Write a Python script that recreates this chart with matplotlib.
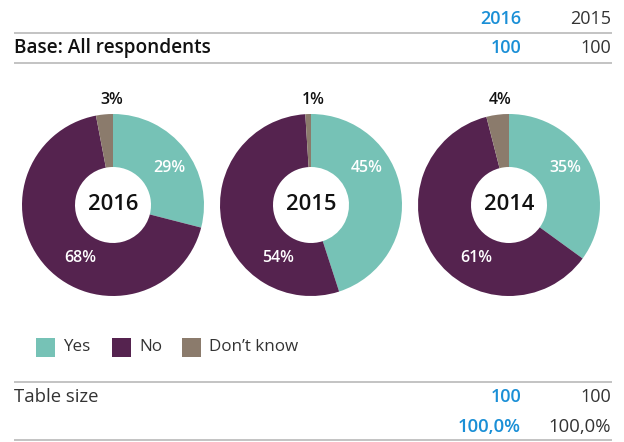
import matplotlib.pyplot as plt
from matplotlib.patches import Rectangle

# survey answers per year, in percent
years = ["2016", "2015", "2014"]
answers = ["Yes", "No", "Don\u2019t know"]
yes_pct = [29, 45, 35]
no_pct = [68, 54, 61]
dk_pct = [3, 1, 4]

# table columns
table_years = ["2016", "2015"]
base_counts = [100, 100]
table_sizes = [100, 100]
table_shares = ["100,0%", "100,0%"]

COLORS = ["#76c2b6", "#55234f", "#8b7b6c"]
BLUE = "#1a8fd6"
GREY_TEXT = "#333333"
RULE = "#b9b9b9"

W, H = 624, 442
plt.rcParams["font.family"] = ["Open Sans", "DejaVu Sans"]


def Y(py):
    # pixel rows count from the top, data y from the bottom
    return H - py


def pt(px):
    return px * 0.72


fig = plt.figure(figsize=(W / 100, H / 100), dpi=100)
ax = fig.add_axes([0, 0, 1, 1])

# donuts
centers_x = [113, 311, 509]
cy = 205
radius, hole = 91, 38
dk_dx = [-1, 2, -9]
for i, cx in enumerate(centers_x):
    vals = [yes_pct[i], no_pct[i], dk_pct[i]]
    ax.pie(vals, colors=COLORS, startangle=90, counterclock=False,
           center=(cx, Y(cy)), radius=radius,
           wedgeprops=dict(width=radius - hole, linewidth=0))
    ax.text(cx, Y(cy), years[i], ha="center", va="center",
            fontsize=pt(22), fontweight="semibold", color="#111111")
    ax.text(cx + 56, Y(168), f"{yes_pct[i]}%", ha="center", va="center",
            fontsize=pt(16), color="white", fontweight="semibold")
    ax.text(cx - 33, Y(258), f"{no_pct[i]}%", ha="center", va="center",
            fontsize=pt(16), color="white", fontweight="semibold")
    ax.text(cx + dk_dx[i], Y(100), f"{dk_pct[i]}%", ha="center", va="center",
            fontsize=pt(16), color="#111111", fontweight="semibold")

ax.set_xlim(0, W)
ax.set_ylim(0, H)
ax.set_aspect("auto")
ax.axis("off")

# legend
leg_x = [36, 112, 182]
for x, label, c in zip(leg_x, answers, COLORS):
    ax.add_patch(Rectangle((x, Y(357)), 19, 19, color=c, lw=0))
    ax.text(x + 27, Y(347), label, ha="left", va="center",
            fontsize=pt(17), color=GREY_TEXT)

# table rules
for py in [33, 63, 382, 440]:
    ax.plot([14, 612], [Y(py), Y(py)], color=RULE, lw=1.2,
            solid_capstyle="butt")

col_x = [521, 611]
for j, x in enumerate(col_x):
    blue = j == 0
    color = BLUE if blue else GREY_TEXT
    weight = "semibold" if blue else "normal"
    ax.text(x, Y(19), table_years[j], ha="right", va="center",
            fontsize=pt(18), color=color, fontweight=weight)
    ax.text(x, Y(48), str(base_counts[j]), ha="right", va="center",
            fontsize=pt(18), color=color, fontweight=weight)
    ax.text(x, Y(397), str(table_sizes[j]), ha="right", va="center",
            fontsize=pt(18), color=color, fontweight=weight)
    ax.text(x, Y(427), table_shares[j], ha="right", va="center",
            fontsize=pt(18.5), color=color, fontweight=weight)

ax.text(14, Y(48), "Base: All respondents", ha="left", va="center",
        fontsize=pt(19), color="#111111", fontweight="semibold")
ax.text(14, Y(397), "Table size", ha="left", va="center",
        fontsize=pt(18.5), color=GREY_TEXT)

fig.savefig("out.png", dpi=100)
